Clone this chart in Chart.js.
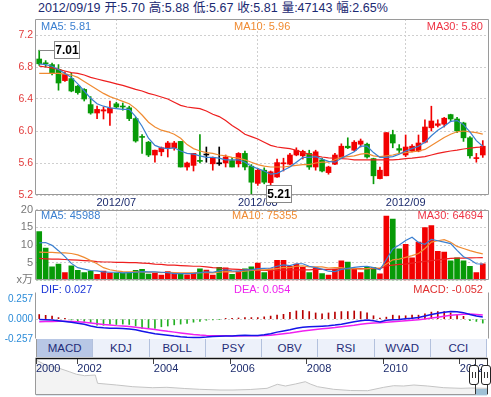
<!DOCTYPE html>
<html>
<head>
<meta charset="utf-8">
<script src="https://cdn.jsdelivr.net/npm/chart.js@4.4.0/dist/chart.umd.min.js"></script>
<style>
  body { margin: 0; width: 491px; height: 397px; overflow: hidden; background: #fff; position: relative;
         font-family: "Liberation Sans", Arial, "Noto Sans CJK SC", sans-serif; }
  canvas, .abs { position: absolute; }
  .leg { position: absolute; font-size: 11px; line-height: 12px; white-space: nowrap; }
  #head { position: absolute; left: 38px; top: 1px; font-size: 12.5px; line-height: 14px; color: #1b2a72; word-spacing: 0.5px; white-space: nowrap; }
  #tabs { position: absolute; left: 36px; top: 339px; width: 451px; height: 18px; display: flex; border-left: 1px solid #9a9a9a; box-sizing: border-box; }
  #tabs span { flex: 1; text-align: center; line-height: 18px; background: #edf1fa; border-right: 1px solid #b3c1dd; color: #1f2c78; font-size: 11.5px; }
  #tabs span.on { background: #b8c7e5; }
  .handle { position: absolute; top: 365px; width: 8px; height: 18px; border: 1px solid #222; border-radius: 3px; background: #fff; }
  .handle i { position: absolute; top: 6px; width: 1px; height: 6px; background: #333; }
</style>
</head>
<body>
<div id="head">2012/09/19 开:5.70 高:5.88 低:5.67 收:5.81 量:47143 幅:2.65%</div>

<canvas id="price" width="491" height="210" style="left:0;top:0"></canvas>
<canvas id="vol" width="491" height="90" style="left:0;top:200px"></canvas>
<canvas id="macd" width="491" height="70" style="left:0;top:283px"></canvas>
<canvas id="nav" width="491" height="47" style="left:0;top:350px"></canvas>

<div class="leg" style="left:41px;top:20px;color:#3a7fd0">MA5: 5.81</div>
<div class="leg" style="left:234px;top:20px;color:#f08b32">MA10: 5.96</div>
<div class="leg" style="right:8px;top:20px;color:#ee3344">MA30: 5.80</div>

<div class="leg" style="left:41px;top:209px;color:#3a7fd0">MA5: 45988</div>
<div class="leg" style="left:232px;top:209px;color:#f08b32">MA10: 75355</div>
<div class="leg" style="right:8px;top:209px;color:#ee3344">MA30: 64694</div>

<div class="leg" style="left:41px;top:283px;color:#1a35d6">DIF: 0.027</div>
<div class="leg" style="left:234px;top:283px;color:#ee22ee">DEA: 0.054</div>
<div class="leg" style="right:8px;top:283px;color:#e03030">MACD: -0.052</div>

<div id="tabs"><span class="on">MACD</span><span>KDJ</span><span>BOLL</span><span>PSY</span><span>OBV</span><span>RSI</span><span>WVAD</span><span>CCI</span></div>

<div class="abs" style="left:475px;top:358px;width:11px;height:36px;border-left:1px solid #333;border-right:1px solid #333"></div>
<div class="abs" style="left:476px;top:389px;width:11px;height:6px;background:#9fc1d6"></div>
<div class="handle" style="left:469px"><i style="left:2px"></i><i style="left:5px"></i></div>
<div class="handle" style="left:481px"><i style="left:2px"></i><i style="left:5px"></i></div>
<div class="abs" style="left:36px;top:395px;width:451px;height:1px;background:#dce6f0"></div>

<script>
// trading days shown (2012)
const juneDays = [13, 14, 15, 18, 19, 20, 21, 25, 26, 27, 28, 29];
const julyDays = [2, 3, 4, 5, 6, 9, 10, 11, 12, 13, 16, 17, 18, 19, 20, 23, 24, 25, 26, 27, 30, 31];
const augDays = [1, 2, 3, 6, 7, 8, 9, 10, 13, 14, 15, 16, 17, 20, 21, 22, 23, 24, 27, 28, 29, 30, 31];
const sepDays = [3, 4, 5, 6, 7, 10, 11, 12, 13, 14, 17, 18, 19];

const opens = [6.90, 6.85, 6.83, 6.77, 6.63, 6.655, 6.56, 6.52, 6.33, 6.225,
  6.25, 6.225, 6.34, 6.31, 6.29, 6.155, 5.93, 5.86, 5.70, 5.74,
  5.79, 5.79, 5.87, 5.55, 5.57, 5.63, 5.70, 5.59, 5.59, 5.60,
  5.63, 5.59, 5.72, 5.56, 5.345, 5.51, 5.355, 5.425, 5.59, 5.585,
  5.70, 5.69, 5.72, 5.55, 5.64, 5.48, 5.585, 5.67, 5.81, 5.76,
  5.835, 5.835, 5.655, 5.405, 5.44, 5.955, 5.78, 5.70, 5.75, 5.75,
  5.86, 6.04, 6.07, 6.085, 6.205, 6.15, 6.10, 5.915, 5.655, 5.70];
const highs = [7.01, 6.88, 6.85, 6.83, 6.74, 6.725, 6.57, 6.53, 6.43, 6.31,
  6.30, 6.375, 6.36, 6.35, 6.31, 6.17, 5.955, 5.87, 5.76, 5.80,
  5.87, 5.87, 5.87, 5.61, 5.72, 5.955, 5.80, 5.675, 5.80, 5.70,
  5.67, 5.73, 5.75, 5.58, 5.53, 5.54, 5.50, 5.65, 5.66, 5.72,
  5.79, 5.76, 5.76, 5.76, 5.66, 5.56, 5.72, 5.84, 5.915, 5.88,
  5.90, 5.85, 5.66, 5.55, 5.98, 6.01, 5.83, 5.95, 5.83, 5.95,
  6.14, 6.31, 6.14, 6.17, 6.21, 6.17, 6.11, 5.93, 5.72, 5.88];
const lows = [6.82, 6.80, 6.70, 6.51, 6.62, 6.49, 6.46, 6.375, 6.21, 6.155,
  6.15, 6.07, 6.29, 6.26, 6.13, 5.86, 5.72, 5.68, 5.61, 5.69,
  5.675, 5.76, 5.55, 5.51, 5.50, 5.60, 5.61, 5.51, 5.57, 5.55,
  5.55, 5.55, 5.515, 5.21, 5.32, 5.34, 5.32, 5.42, 5.50, 5.58,
  5.69, 5.65, 5.52, 5.51, 5.49, 5.46, 5.58, 5.66, 5.78, 5.75,
  5.80, 5.66, 5.34, 5.40, 5.44, 5.79, 5.73, 5.68, 5.74, 5.74,
  5.85, 6.00, 6.05, 6.05, 6.12, 5.98, 5.87, 5.66, 5.61, 5.67];
const closes = [6.84, 6.84, 6.72, 6.60, 6.71, 6.50, 6.48, 6.40, 6.225, 6.27,
  6.265, 6.285, 6.30, 6.30, 6.155, 5.875, 5.92, 5.70, 5.76, 5.79,
  5.85, 5.85, 5.55, 5.60, 5.72, 5.62, 5.70, 5.67, 5.59, 5.675,
  5.55, 5.72, 5.55, 5.36, 5.51, 5.36, 5.49, 5.605, 5.60, 5.70,
  5.76, 5.745, 5.55, 5.74, 5.50, 5.55, 5.70, 5.81, 5.79, 5.86,
  5.875, 5.675, 5.44, 5.51, 5.98, 5.85, 5.76, 5.80, 5.81, 5.85,
  6.05, 6.125, 6.09, 6.16, 6.15, 6.00, 5.915, 5.69, 5.66, 5.81];

const ma5 = [6.84, 6.83, 6.81, 6.77, 6.72, 6.67, 6.59, 6.50, 6.41, 6.34,
  6.31, 6.29, 6.28, 6.27, 6.27, 6.18, 6.06, 5.91, 5.82, 5.79,
  5.78, 5.79, 5.75, 5.72, 5.71, 5.69, 5.67, 5.67, 5.66, 5.64,
  5.64, 5.64, 5.61, 5.56, 5.53, 5.50, 5.46, 5.47, 5.51, 5.55,
  5.61, 5.67, 5.67, 5.68, 5.65, 5.62, 5.61, 5.66, 5.70, 5.74,
  5.81, 5.81, 5.73, 5.67, 5.67, 5.68, 5.71, 5.75, 5.78, 5.81,
  5.86, 5.94, 6.01, 6.06, 6.12, 6.13, 6.08, 5.99, 5.88, 5.81];
const ma10 = [6.72, 6.72, 6.72, 6.72, 6.71, 6.70, 6.67, 6.62, 6.57, 6.52,
  6.47, 6.43, 6.40, 6.37, 6.34, 6.28, 6.20, 6.11, 6.05, 6.01,
  5.99, 5.96, 5.91, 5.83, 5.78, 5.75, 5.73, 5.72, 5.70, 5.69,
  5.67, 5.66, 5.64, 5.61, 5.58, 5.56, 5.55, 5.55, 5.55, 5.56,
  5.57, 5.58, 5.58, 5.60, 5.61, 5.61, 5.64, 5.67, 5.68, 5.69,
  5.71, 5.72, 5.69, 5.68, 5.69, 5.70, 5.72, 5.73, 5.74, 5.75,
  5.77, 5.82, 5.87, 5.92, 5.96, 5.99, 6.00, 5.99, 5.98, 5.96];
const ma30 = [6.81, 6.80, 6.79, 6.77, 6.75, 6.73, 6.72, 6.70, 6.67, 6.65,
  6.63, 6.61, 6.59, 6.57, 6.545, 6.52, 6.50, 6.47, 6.45, 6.425,
  6.40, 6.36, 6.32, 6.30, 6.29, 6.28, 6.25, 6.21, 6.18, 6.13,
  6.07, 6.02, 5.96, 5.93, 5.90, 5.86, 5.82, 5.80, 5.79, 5.78,
  5.76, 5.73, 5.71, 5.69, 5.675, 5.665, 5.66, 5.655, 5.65, 5.64,
  5.64, 5.64, 5.64, 5.64, 5.64, 5.64, 5.645, 5.655, 5.66, 5.67,
  5.68, 5.70, 5.72, 5.735, 5.75, 5.76, 5.775, 5.785, 5.795, 5.80];

// volume in 万 (10,000 lots)
const volumes = [13.8, 9.15, 3.8, 4.6, 2.2, 4.1, 2.85, 2.2, 2.65, 1.7,
  2.65, 2.1, 2.1, 2.1, 2.2, 2.85, 3.1, 1.8, 2.0, 1.5,
  2.5, 1.85, 1.85, 1.6, 2.1, 3.3, 2.9, 1.5, 3.7, 3.55,
  1.7, 2.65, 3.3, 3.8, 4.9, 2.2, 3.3, 5.7, 5.7, 4.0,
  4.6, 3.7, 2.2, 3.55, 1.9, 1.5, 3.1, 5.5, 5.2, 3.4,
  2.2, 3.7, 3.7, 1.85, 18.2, 17.3, 8.9, 10.2, 6.4, 10.8,
  14.9, 15.5, 8.2, 8.0, 5.5, 6.4, 5.5, 4.0, 2.2, 4.71];
const volMa5 = [10.6, 10.7, 9.9, 8.4, 6.7, 4.8, 3.6, 3.2, 2.8, 2.7,
  2.4, 2.3, 2.3, 2.1, 2.2, 2.3, 2.5, 2.4, 2.4, 2.3,
  2.2, 1.9, 1.9, 1.9, 2.0, 2.2, 2.4, 2.3, 2.7, 3.0,
  2.7, 2.6, 3.0, 3.0, 3.3, 3.4, 3.5, 4.0, 4.4, 4.2,
  4.7, 4.7, 4.0, 3.6, 3.2, 2.6, 2.5, 3.1, 3.4, 3.7,
  3.9, 4.0, 3.6, 3.0, 5.9, 8.9, 10.0, 11.3, 12.2, 10.7,
  10.2, 11.6, 11.2, 10.8, 10.4, 8.5, 6.7, 5.9, 4.7, 4.6];
const volMa10 = [8.0, 7.9, 7.9, 7.8, 7.8, 7.6, 7.2, 6.5, 5.6, 4.7,
  3.6, 3.0, 2.7, 2.5, 2.4, 2.4, 2.4, 2.3, 2.3, 2.2,
  2.3, 2.2, 2.1, 2.1, 2.1, 2.2, 2.2, 2.1, 2.3, 2.5,
  2.4, 2.5, 2.6, 2.8, 3.0, 3.0, 3.1, 3.3, 3.7, 3.6,
  4.0, 4.1, 3.8, 3.8, 3.8, 3.5, 3.6, 3.6, 3.3, 3.3,
  3.2, 3.3, 3.5, 3.5, 4.6, 5.8, 6.0, 6.5, 7.0, 7.6,
  9.0, 10.8, 11.2, 11.5, 10.8, 9.6, 9.0, 8.4, 7.9, 7.5];
const volMa30 = [6.2, 6.1, 6.0, 6.0, 5.9, 5.8, 5.7, 5.6, 5.5, 5.3,
  5.2, 5.2, 5.1, 5.1, 5.0, 5.0, 4.9, 4.8, 4.6, 4.5,
  4.3, 4.3, 4.2, 4.1, 4.0, 4.0, 3.8, 3.6, 3.5, 3.3,
  3.2, 3.1, 3.0, 3.0, 2.9, 2.8, 2.8, 2.9, 2.9, 3.0,
  3.0, 3.0, 3.0, 3.1, 3.1, 3.1, 3.2, 3.3, 3.3, 3.3,
  3.3, 3.3, 3.3, 3.3, 4.1, 4.3, 4.5, 4.6, 4.9, 5.2,
  5.4, 5.6, 5.8, 6.0, 6.2, 6.3, 6.3, 6.35, 6.4, 6.45];

const dif = [-0.005, -0.008, -0.012, -0.02, -0.03, -0.042, -0.055, -0.068, -0.09, -0.105,
  -0.113, -0.118, -0.12, -0.122, -0.128, -0.14, -0.158, -0.176, -0.19, -0.2,
  -0.21, -0.222, -0.23, -0.236, -0.24, -0.24, -0.235, -0.228, -0.224, -0.222,
  -0.22, -0.215, -0.21, -0.215, -0.215, -0.205, -0.19, -0.17, -0.155, -0.14,
  -0.12, -0.105, -0.1, -0.095, -0.092, -0.088, -0.078, -0.066, -0.05, -0.035,
  -0.02, -0.012, -0.022, -0.036, -0.015, -0.008, -0.005, 0.005, 0.01, 0.02,
  0.04, 0.06, 0.078, 0.09, 0.1, 0.098, 0.085, 0.06, 0.04, 0.027];
const dea = [-0.035, -0.032, -0.03, -0.028, -0.028, -0.03, -0.035, -0.042, -0.05, -0.06,
  -0.07, -0.078, -0.085, -0.09, -0.098, -0.105, -0.115, -0.125, -0.137, -0.148,
  -0.16, -0.17, -0.18, -0.19, -0.2, -0.208, -0.213, -0.216, -0.218, -0.219,
  -0.22, -0.22, -0.218, -0.218, -0.218, -0.215, -0.21, -0.2, -0.19, -0.18,
  -0.168, -0.155, -0.145, -0.135, -0.127, -0.118, -0.11, -0.1, -0.09, -0.08,
  -0.068, -0.058, -0.05, -0.047, -0.04, -0.033, -0.027, -0.02, -0.014, -0.007,
  0.002, 0.014, 0.026, 0.038, 0.05, 0.058, 0.064, 0.066, 0.061, 0.054];
const macdHist = [0.06, 0.05, 0.04, 0.02, 0.01, -0.01, -0.03, -0.03, -0.045, -0.08,
  -0.08, -0.065, -0.07, -0.065, -0.07, -0.09, -0.12, -0.12, -0.12, -0.1,
  -0.09, -0.075, -0.065, -0.055, -0.04, -0.03, -0.015, -0.01, -0.005, 0.01,
  0.01, 0.015, 0.02, 0.02, 0.02, 0.03, 0.04, 0.052, 0.063, 0.088,
  0.107, 0.114, 0.099, 0.081, 0.07, 0.081, 0.092, 0.099, 0.099, 0.107,
  0.099, 0.081, 0.044, 0.015, 0.026, 0.052, 0.044, 0.044, 0.052, 0.052,
  0.07, 0.092, 0.099, 0.099, 0.081, 0.063, 0.037, -0.02, -0.03, -0.052];

const priceTicks = [5.2, 5.6, 6.0, 6.4, 6.8, 7.2];
const volTicks = [0, 5, 10, 15, 20];
const macdTicks = [-0.257, 0, 0.257];

// long-range navigator (relative level)
const navYears = [2000.92, 2001.14, 2001.53, 2001.79, 2001.98, 2002.19, 2002.47, 2002.53, 2003.03, 2003.45,
  2003.97, 2004.34, 2004.81, 2005.2, 2005.73, 2006.07, 2006.52, 2006.96, 2007.23, 2007.44,
  2007.7, 2007.96, 2008.09, 2008.28, 2008.7, 2009.14, 2009.59, 2010.01, 2010.27, 2010.53,
  2010.8, 2011.16, 2011.58, 2012.03, 2012.29, 2012.71];
const navLevels = [35, 30.7, 26.7, 23.3, 20.7, 19.3, 20, 11.7, 10, 8.3,
  7.3, 7.7, 6.5, 5.7, 5, 5, 5.5, 6.7, 10.7, 9,
  11, 13.3, 11, 8.3, 5.7, 4.5, 4.3, 7.7, 9.3, 9,
  10, 9, 7.3, 6.7, 7, 6.7];
const navTickYears = [2000.92, 2002, 2004, 2006, 2008, 2010, 2012];

const pad = d => (d < 10 ? '0' : '') + d;
const dates = [
  ...juneDays.map(d => '2012/06/' + pad(d)),
  ...julyDays.map(d => '2012/07/' + pad(d)),
  ...augDays.map(d => '2012/08/' + pad(d)),
  ...sepDays.map(d => '2012/09/' + pad(d)),
];
const monthIdx = dates.map((d, i) => (i > 0 && d.slice(5, 7) !== dates[i - 1].slice(5, 7) ? i : -1)).filter(i => i >= 0);

const RED = '#f20000', GREEN = '#079a07', FLAT = '#000';
const C5 = '#3a7fd0', C10 = '#f08b32', C30 = '#ee1f1f';
const NAVY = '#1d2c6e', GRID = '#cfcfcf';

const candleColor = opens.map((o, i) => (closes[i] > o ? RED : closes[i] < o ? GREEN : FLAT));
const volColor = candleColor.map((c, i) => {
  if (c !== FLAT) return c;
  return closes[i] >= closes[i - 1] ? RED : GREEN;
});
const histColor = macdHist.map(v => (v >= 0 ? '#b80000' : '#22b022'));

Chart.defaults.font.family = '"Liberation Sans", Arial, "Noto Sans CJK SC", sans-serif';
Chart.defaults.animation = false;
Chart.defaults.plugins.legend.display = false;
Chart.defaults.plugins.tooltip.enabled = false;

const boxPlugin = {
  id: 'box',
  afterDraw(chart, args, o) {
    const a = chart.chartArea, g = chart.ctx;
    const l = Math.round(a.left) - 0.5, t = Math.round(a.top) + 0.5;
    const r = Math.round(a.right + (o.extra || 0)) + 0.5, b = Math.round(a.bottom) - 0.5;
    const sides = o.sides || 'tlrb', c = o.color || '#9a9a9a';
    const seg = (x1, y1, x2, y2, col, w) => {
      g.beginPath(); g.strokeStyle = col; g.lineWidth = w || 1;
      g.moveTo(x1, y1); g.lineTo(x2, y2); g.stroke();
    };
    g.save();
    if (sides.includes('t')) seg(l, t, r, t, o.topColor || c, o.topWidth);
    if (sides.includes('l')) seg(l, t, l, b, c);
    if (sides.includes('r')) seg(r, t, r, b, c);
    if (sides.includes('b')) seg(l, b, r, b, c);
    g.restore();
  }
};

// boxes with the highest high and the lowest low
const calloutPlugin = {
  id: 'callout',
  afterDraw(chart) {
    const g = chart.ctx, xs = chart.scales.x, ys = chart.scales.y;
    const hi = Math.max(...highs), lo = Math.min(...lows);
    [[highs.indexOf(hi), hi], [lows.indexOf(lo), lo]].forEach(([i, v]) => {
      const px = Math.round(xs.getPixelForValue(i)), py = Math.round(ys.getPixelForValue(v)) + 0.5;
      const bx = px + 15.5, bw = 25, bh = 17, by = py - 9;
      g.save();
      g.strokeStyle = '#888'; g.lineWidth = 1;
      g.beginPath(); g.moveTo(px, py); g.lineTo(bx, py); g.stroke();
      g.fillStyle = '#fff'; g.fillRect(bx, by, bw, bh); g.strokeRect(bx, by, bw, bh);
      g.fillStyle = '#000'; g.font = 'bold 12px "Liberation Sans", Arial';
      g.textAlign = 'center'; g.textBaseline = 'middle';
      g.fillText(v.toFixed(2), bx + bw / 2, by + bh / 2 + 1);
      g.restore();
    });
  }
};

const monthGrid = c => (monthIdx.includes(c.index) ? GRID : 'rgba(0,0,0,0)');
const yWidth = s => { s.width = 36; };
const lineSet = (data, color, w) => ({
  type: 'line', data, borderColor: color, borderWidth: w || 1.2, pointRadius: 0, tension: 0, order: 0
});

new Chart(document.getElementById('price'), {
  type: 'bar',
  data: {
    labels: dates,
    datasets: [
      lineSet(ma5, C5), lineSet(ma10, C10), lineSet(ma30, C30),
      { data: opens.map((o, i) => [o, closes[i]]), backgroundColor: candleColor, barThickness: 5, minBarLength: 1, grouped: false, order: 1 },
      { data: lows.map((l, i) => [l, highs[i]]), backgroundColor: candleColor, barThickness: 1, grouped: false, order: 2 }
    ]
  },
  options: {
    responsive: false, events: [],
    layout: { padding: { top: 19, right: 5, bottom: 0, left: 0 } },
    scales: {
      x: {
        grid: { offset: false, drawTicks: false, color: monthGrid },
        border: { display: false, dash: [2, 2] },
        ticks: {
          autoSkip: false, maxRotation: 0, padding: 1, color: NAVY, font: { size: 11 },
          callback: (v, i) => (monthIdx.includes(i) ? dates[i].slice(0, 7) : '')
        },
        afterFit: s => { s.height = 15; }
      },
      y: {
        min: 5.2, max: 7.4,
        afterBuildTicks: s => { s.ticks = priceTicks.map(v => ({ value: v })); },
        afterFit: yWidth,
        grid: { drawTicks: false, color: GRID },
        border: { display: false, dash: [2, 2] },
        ticks: { color: '#e23b3b', font: { size: 10.5 }, padding: 3, callback: v => v.toFixed(1) }
      }
    },
    plugins: { box: { extra: 2 } }
  },
  plugins: [boxPlugin, calloutPlugin]
});

new Chart(document.getElementById('vol'), {
  type: 'bar',
  data: {
    labels: dates,
    datasets: [
      lineSet(volMa5, C5), lineSet(volMa10, C10), lineSet(volMa30, C30),
      { data: volumes, backgroundColor: volColor, barThickness: 5, order: 1 }
    ]
  },
  options: {
    responsive: false, events: [],
    layout: { padding: { top: 7, right: 5, bottom: 7, left: 0 } },
    scales: {
      x: {
        grid: { offset: false, drawTicks: false, color: monthGrid },
        border: { display: false, dash: [2, 2] },
        ticks: { display: false },
        afterFit: s => { s.height = 0; }
      },
      y: {
        min: 0, max: 20,
        afterBuildTicks: s => { s.ticks = volTicks.map(v => ({ value: v })); },
        afterFit: yWidth,
        grid: { drawTicks: false, color: GRID },
        border: { display: false, dash: [2, 2] },
        ticks: { color: '#777', font: { size: 11 }, padding: 3, callback: v => (v === 0 ? 'x万' : v) }
      }
    },
    plugins: { box: { extra: 2 } }
  },
  plugins: [boxPlugin]
});

new Chart(document.getElementById('macd'), {
  type: 'bar',
  data: {
    labels: dates,
    datasets: [
      lineSet(dif, '#1414e8', 1.5), lineSet(dea, '#f020f0', 1.5),
      { data: macdHist, backgroundColor: histColor, barThickness: 1, order: 1 }
    ]
  },
  options: {
    responsive: false, events: [],
    layout: { padding: { top: 0, right: 5, bottom: 14, left: 0 } },
    scales: {
      x: { display: false },
      y: {
        min: -0.26, max: 0.355,
        afterBuildTicks: s => { s.ticks = macdTicks.map(v => ({ value: v })); },
        afterFit: yWidth,
        grid: { drawTicks: false, color: c => (c.tick && c.tick.value === 0 ? GRID : 'rgba(0,0,0,0)') },
        border: { display: false, dash: [2, 2] },
        ticks: { color: '#2a8bd8', font: { size: 10 }, padding: 3, callback: v => v.toFixed(3) }
      }
    },
    plugins: { box: { extra: 2, sides: 'lr' } }
  },
  plugins: [boxPlugin]
});

new Chart(document.getElementById('nav'), {
  type: 'line',
  data: {
    datasets: [{
      data: navYears.map((x, i) => ({ x, y: navLevels[i] })),
      borderColor: '#c4c4c4', borderWidth: 1, pointRadius: 0, tension: 0,
      fill: 'origin', backgroundColor: '#f3f3f3'
    }]
  },
  options: {
    responsive: false, events: [],
    layout: { padding: { top: 8, right: 4, bottom: 2, left: 36 } },
    scales: {
      x: {
        type: 'linear', position: 'top',
        min: navYears[0], max: navYears[navYears.length - 1],
        afterBuildTicks: s => { s.ticks = navTickYears.map(v => ({ value: v })); },
        afterFit: s => { s.height = 0; },
        grid: { drawOnChartArea: false, drawTicks: true, tickLength: -6, color: '#444', z: 1 },
        border: { display: false },
        ticks: {
          z: 1, mirror: true, padding: 4, align: 'start', autoSkip: false, maxRotation: 0,
          color: NAVY, font: { size: 11 }, callback: v => String(Math.floor(v))
        }
      },
      y: { display: false, min: 0, max: 37 }
    },
    plugins: { box: { topColor: '#111', topWidth: 1.5 } }
  },
  plugins: [boxPlugin]
});
</script>
</body>
</html>
